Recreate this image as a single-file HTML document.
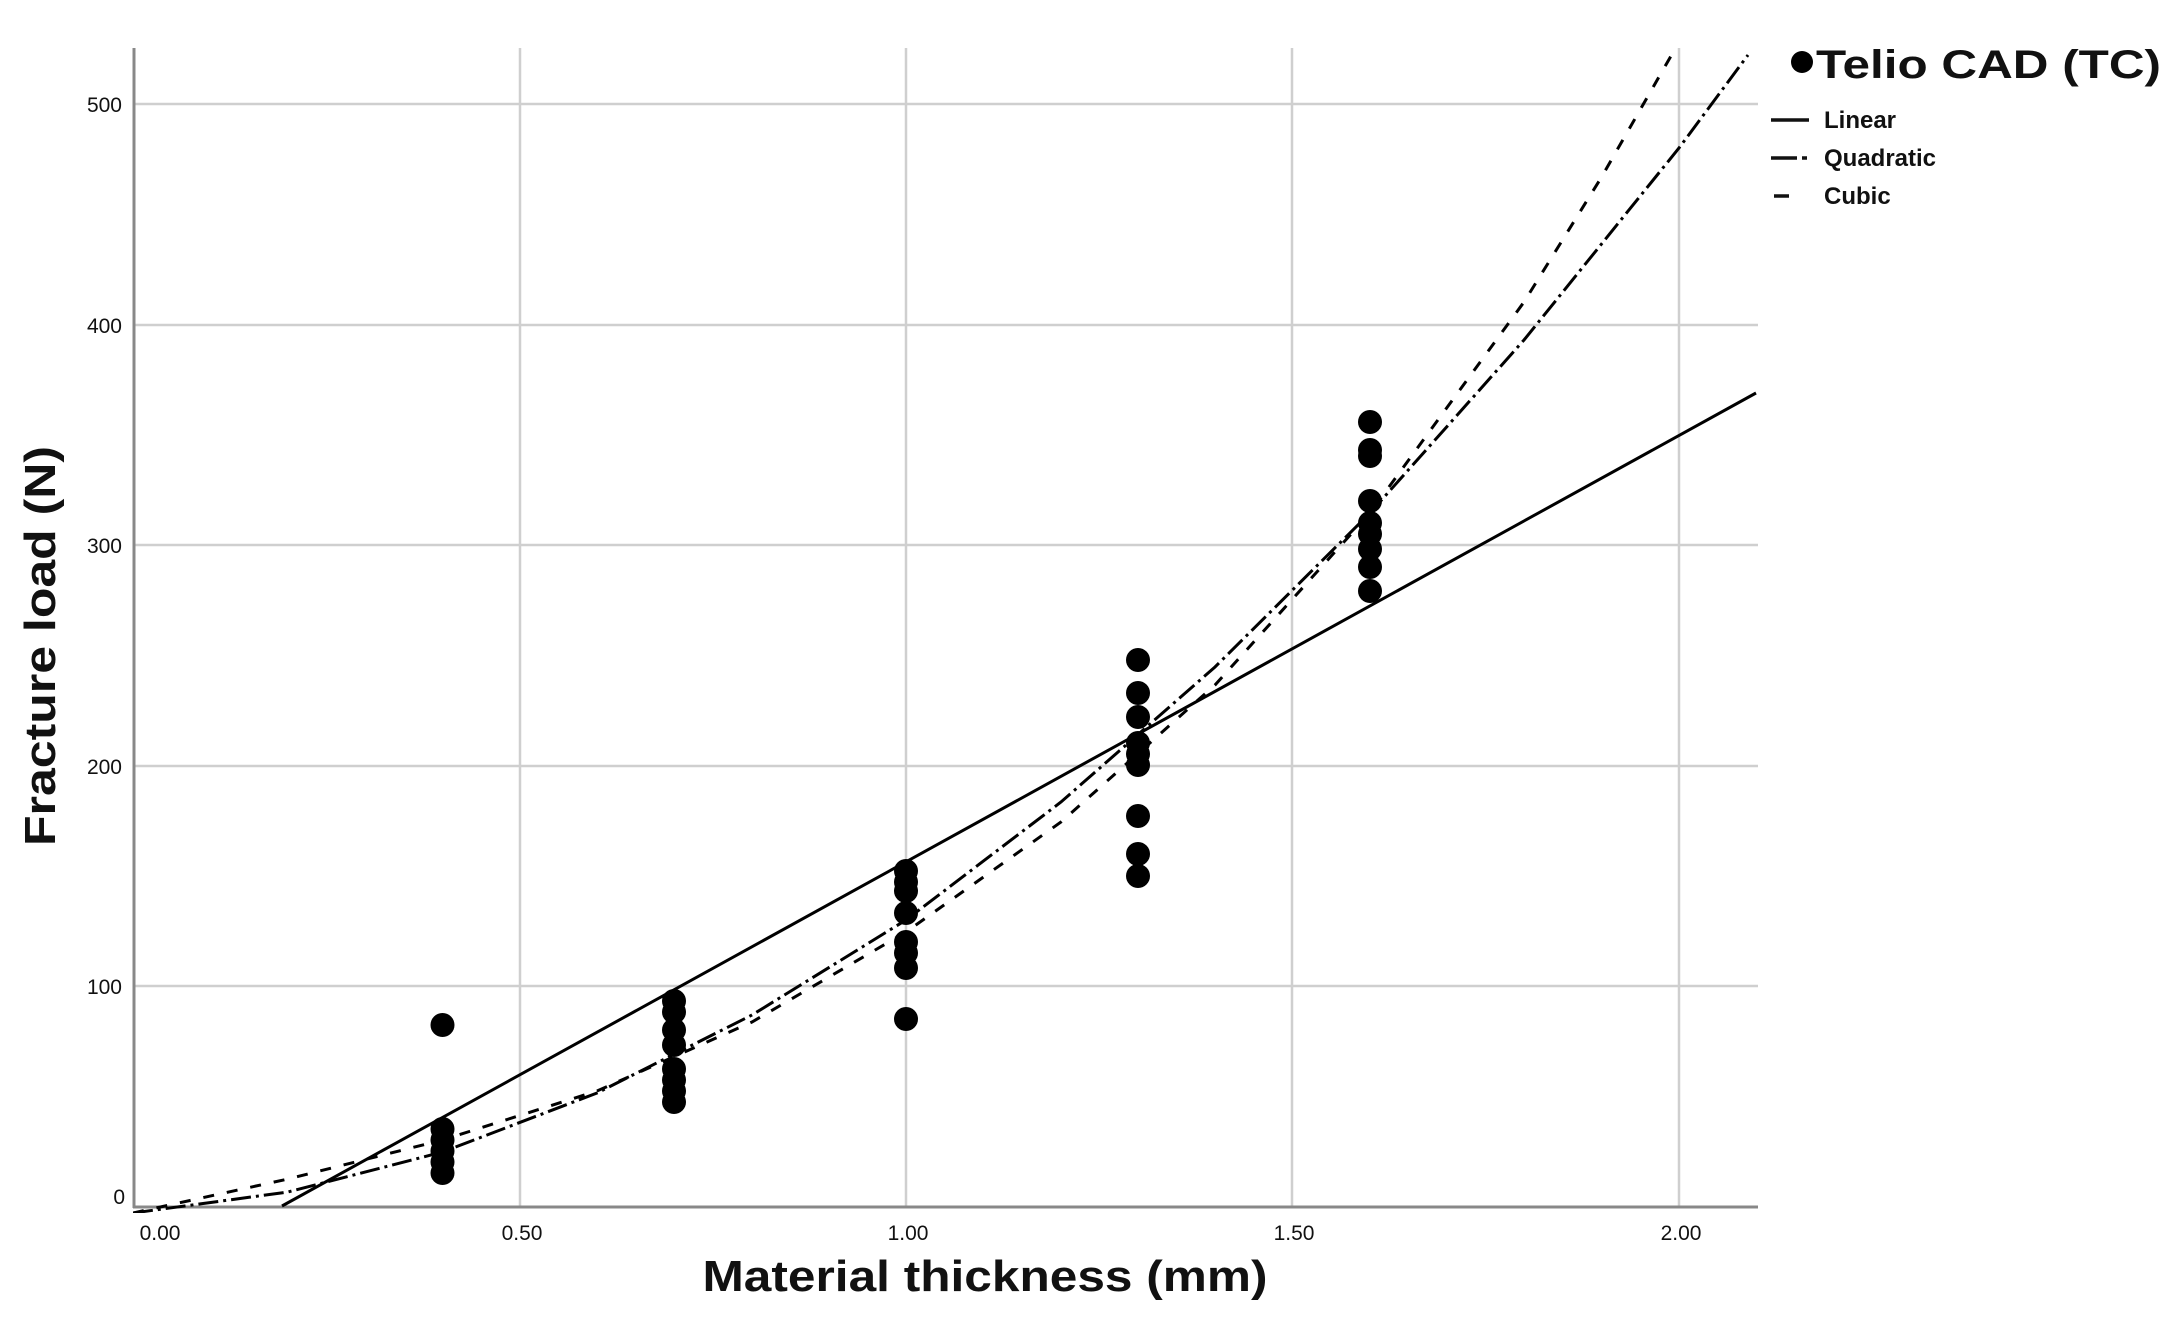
<!DOCTYPE html>
<html><head><meta charset="utf-8"><style>
html,body{margin:0;padding:0;background:#fff;}
svg{display:block;}
text{font-family:"Liberation Sans",Arial,sans-serif;fill:#111;}
</style></head><body>
<svg width="2179" height="1318" viewBox="0 0 2179 1318" xmlns="http://www.w3.org/2000/svg">
<defs><clipPath id="c"><rect x="133" y="48" width="1625" height="1165"/></clipPath></defs>
<rect width="2179" height="1318" fill="#fff"/>
<g stroke="#cfcfcf" stroke-width="2.5">
<line x1="520" y1="48" x2="520" y2="1207"/>
<line x1="906" y1="48" x2="906" y2="1207"/>
<line x1="1292" y1="48" x2="1292" y2="1207"/>
<line x1="1679" y1="48" x2="1679" y2="1207"/>
<line x1="133" y1="104" x2="1758" y2="104"/>
<line x1="133" y1="325" x2="1758" y2="325"/>
<line x1="133" y1="545" x2="1758" y2="545"/>
<line x1="133" y1="766" x2="1758" y2="766"/>
<line x1="133" y1="986" x2="1758" y2="986"/>
</g>
<g stroke="#888" stroke-width="3">
<line x1="134" y1="48" x2="134" y2="1208"/>
<line x1="133" y1="1207" x2="1758" y2="1207"/>
</g>
<g font-size="21" text-anchor="end" textLength="">
<text x="122" y="112">500</text>
<text x="122" y="333">400</text>
<text x="122" y="553">300</text>
<text x="122" y="774">200</text>
<text x="122" y="994">100</text>
<text x="125" y="1204">0</text>
</g>
<g font-size="21" text-anchor="middle">
<text x="160" y="1240">0.00</text>
<text x="522" y="1240">0.50</text>
<text x="908" y="1240">1.00</text>
<text x="1294" y="1240">1.50</text>
<text x="1681" y="1240">2.00</text>
</g>
<text x="985" y="1291" font-size="44" font-weight="bold" text-anchor="middle" textLength="565" lengthAdjust="spacingAndGlyphs">Material thickness (mm)</text>
<text transform="translate(55,646) rotate(-90)" font-size="44" font-weight="bold" text-anchor="middle" textLength="400" lengthAdjust="spacingAndGlyphs">Fracture load (N)</text>
<g clip-path="url(#c)" fill="none" stroke="#000" stroke-width="3">
<line x1="282" y1="1206" x2="1756" y2="393"/>
<polyline stroke-dasharray="20,5,3,5" points="133,1213 288,1192 442.5,1152 597,1093 752,1015 906,920 1061,802 1215,667 1370,513 1524,340 1679,148 1748,55"/>
<polyline stroke-dasharray="11,13" points="133,1213 288,1179 442.5,1140 597,1091 752,1022 906,932 1061,822 1215,685 1370,513 1524,302 1601,178 1679,42"/>
</g>
<g fill="#000">
<circle cx="442.5" cy="1025" r="12"/><circle cx="442.5" cy="1129" r="12"/><circle cx="442.5" cy="1140" r="12"/><circle cx="442.5" cy="1151" r="12"/><circle cx="442.5" cy="1162" r="12"/><circle cx="442.5" cy="1173" r="12"/>
<circle cx="674" cy="1001" r="12"/><circle cx="674" cy="1012" r="12"/><circle cx="674" cy="1030" r="12"/><circle cx="674" cy="1045" r="12"/><circle cx="674" cy="1069" r="12"/><circle cx="674" cy="1080" r="12"/><circle cx="674" cy="1091" r="12"/><circle cx="674" cy="1102" r="12"/>
<circle cx="906" cy="871" r="12"/><circle cx="906" cy="882" r="12"/><circle cx="906" cy="891" r="12"/><circle cx="906" cy="913" r="12"/><circle cx="906" cy="942" r="12"/><circle cx="906" cy="953" r="12"/><circle cx="906" cy="968" r="12"/><circle cx="906" cy="1019" r="12"/>
<circle cx="1138" cy="660" r="12"/><circle cx="1138" cy="693" r="12"/><circle cx="1138" cy="717" r="12"/><circle cx="1138" cy="743" r="12"/><circle cx="1138" cy="754" r="12"/><circle cx="1138" cy="765" r="12"/><circle cx="1138" cy="816" r="12"/><circle cx="1138" cy="854" r="12"/><circle cx="1138" cy="876" r="12"/>
<circle cx="1370" cy="422" r="12"/><circle cx="1370" cy="450" r="12"/><circle cx="1370" cy="456" r="12"/><circle cx="1370" cy="501" r="12"/><circle cx="1370" cy="523" r="12"/><circle cx="1370" cy="534" r="12"/><circle cx="1370" cy="549" r="12"/><circle cx="1370" cy="567" r="12"/><circle cx="1370" cy="591" r="12"/>
</g>
<circle cx="1802" cy="62" r="11" fill="#000"/>
<text x="1816" y="78" font-size="40" font-weight="bold" textLength="345" lengthAdjust="spacingAndGlyphs">Telio CAD (TC)</text>
<g stroke="#111" stroke-width="3.5">
<line x1="1771" y1="120" x2="1809" y2="120"/>
<line x1="1771" y1="158" x2="1797" y2="158"/><line x1="1802" y1="158" x2="1807" y2="158"/>
<line x1="1774" y1="196" x2="1789" y2="196"/>
</g>
<g font-size="24" font-weight="bold">
<text x="1824" y="128">Linear</text>
<text x="1824" y="166">Quadratic</text>
<text x="1824" y="204">Cubic</text>
</g>
</svg>
</body></html>
